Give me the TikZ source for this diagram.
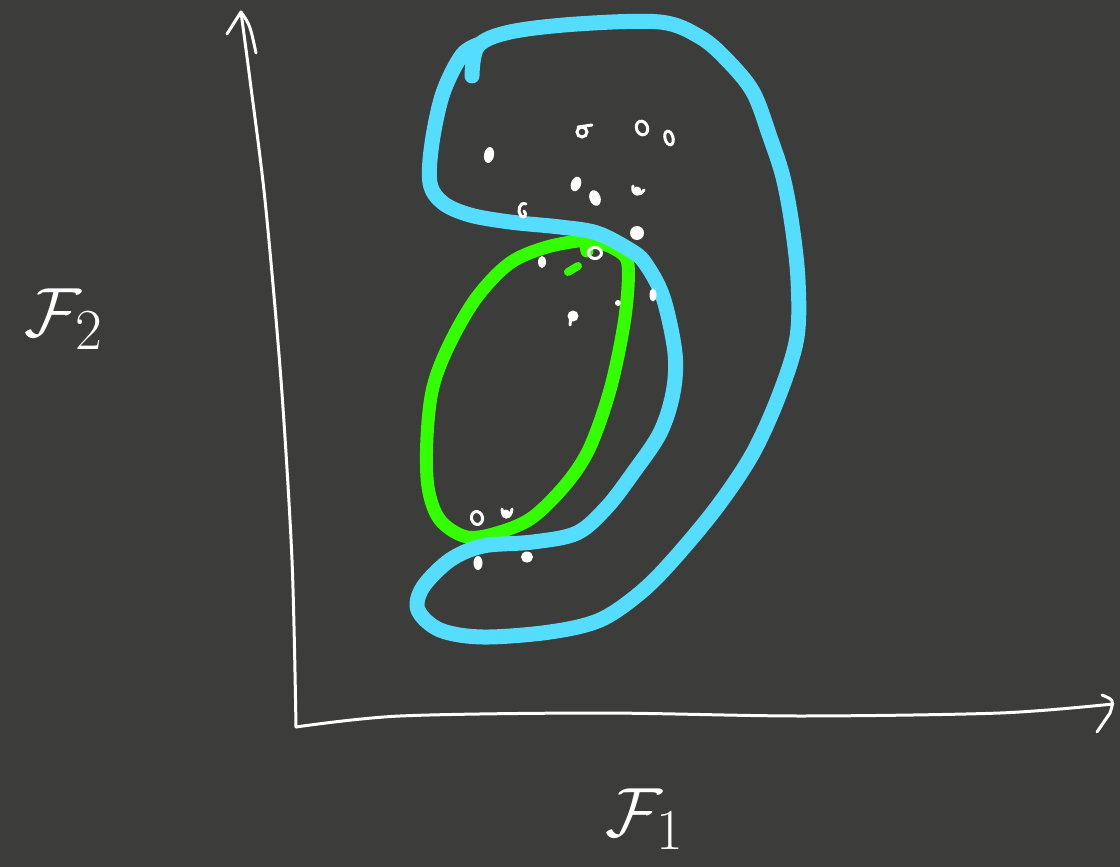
\documentclass[tikz,border=0pt]{standalone}
\usepackage{fontspec}
\definecolor{bg}{RGB}{60,60,59}
\definecolor{skyc}{RGB}{85,221,255}
\definecolor{limec}{RGB}{51,255,0}
\begin{document}
\begin{tikzpicture}[x=1pt,y=-1pt,
  axisline/.style={white,line width=3pt,line cap=round,line join=round},
  skyline/.style={skyc,line width=15pt,line cap=round,line join=round},
  limeline/.style={limec,line width=13pt,line cap=round,line join=round},
  dotfill/.style={fill=white},
  dotring/.style={draw=white,line width=3pt},
  scrib/.style={white,line width=3pt,line cap=round,line join=round},
  axlabel/.style={white,font=\Huge,scale=2.8,inner sep=0pt}]
\fill[bg] (0,0) rectangle (1120,867);
\useasboundingbox (0,0) rectangle (1120,867);

% axes
\coordinate (origin) at (296,727);
\coordinate (ytip) at (241,12);
\coordinate (xtip) at (1113,704);
\draw[axisline] plot[smooth,tension=0.5] coordinates {(origin) (292,560) (281,380) (265,200) (250,80) (ytip)};
\draw[axisline] plot[smooth,tension=0.5] coordinates {(origin) (400,716) (600,713) (800,716) (1000,713) (xtip)};
\draw[axisline] (227,34) -- (ytip) .. controls (250,25) .. (256,53);
\draw[axisline] (1102,695) .. controls (1114,700) .. (1110,713) -- (1097,732);

% labels
\node[axlabel] (f2) at (64,319) {$\mathcal{F}_2$};
\node[axlabel] (f1) at (645,819) {$\mathcal{F}_1$};

% green region
\draw[limeline] plot[smooth cycle,tension=0.55] coordinates {
 (587,240) (547,247) (510,263) (477,297) (450,343) (433,387) (427,437)
 (428,487) (440,520) (467,537) (500,532) (533,517) (567,483) (590,447)
 (610,390) (623,330) (628,287) (627,260) (615,249) (600,243)};
\draw[limeline] (585,240) -- (587,251);
\draw[limec,line width=8pt,line cap=round] (568,272) -- (578,266);

% cyan region
\draw[skyline] plot[smooth,tension=0.55] coordinates {
 (472,76) (478,46) (510,32) (577,24) (660,22) (700,37) (727,60) (753,92)
 (770,137) (783,177) (792,225) (798,280) (797,337) (780,393) (753,453)
 (717,507) (673,560) (640,593) (600,620) (550,632) (483,637) (440,630)
 (418,610) (423,587) (450,560) (483,546) (533,542) (577,533) (607,507)
 (633,473) (660,433) (673,393) (675,353) (663,297) (645,263) (630,250)
 (597,233) (560,227) (510,222) (470,215) (443,203) (430,183) (432,143)
 (443,93) (462,55) (480,44)};
\fill[skyc] (466,52) -- (484,42) -- (476,76) -- (471,76) -- cycle;

% data points
\fill[dotfill,rotate around={-10:(489,155)}] (489,155) ellipse [x radius=5,y radius=8];
\draw[dotring] (582,132) circle [radius=5];
\draw[scrib] (578,127) -- (592,125);
\draw[dotring,rotate around={20:(642,128)}] (642,128) ellipse [x radius=5.5,y radius=7];
\draw[dotring,rotate around={15:(669,138)}] (669,138) ellipse [x radius=4,y radius=7];
\fill[dotfill,rotate around={-20:(576,184)}] (576,184) ellipse [x radius=5,y radius=7.5];
\fill[dotfill,rotate around={20:(595,198)}] (595,198) ellipse [x radius=5.5,y radius=8];
\draw[scrib] (633,186) .. controls (631,195) and (640,197) .. (644,190);
\fill[dotfill] (637,191) circle [radius=4.5];
\draw[scrib] (526,204) .. controls (519,201) and (517,212) .. (521,216) .. controls (525,219) and (527,214) .. (524,211);
\fill[dotfill] (637,233) circle [radius=7];
\fill[dotfill] (542,262) ellipse [x radius=4,y radius=6];
\draw[dotring] (595,253) ellipse [x radius=6.5,y radius=5.5];
\fill[dotfill] (653,295) ellipse [x radius=3.5,y radius=6.5];
\fill[dotfill] (618,303) circle [radius=3];
\fill[dotfill] (573,316) circle [radius=5.5];
\draw[scrib] (571,316) -- (570,325);
\draw[dotring,rotate around={15:(477,518)}] (477,518) ellipse [x radius=5.5,y radius=6.5];
\draw[scrib] (502,509) .. controls (502,519) and (511,520) .. (512,509);
\fill[dotfill] (506,514) circle [radius=4.5];
\fill[dotfill] (478,563) ellipse [x radius=4.5,y radius=7];
\fill[dotfill] (527,557) ellipse [x radius=6,y radius=5.5];
\end{tikzpicture}
\end{document}
